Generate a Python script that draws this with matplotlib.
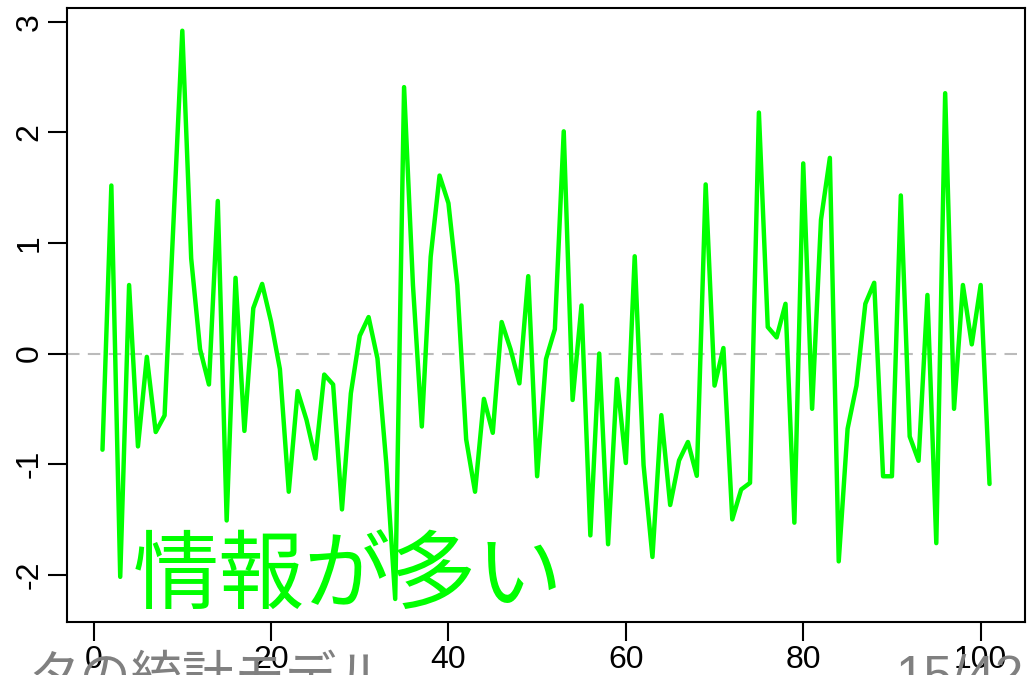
import numpy as np
import matplotlib
matplotlib.use("Agg")
import matplotlib.pyplot as plt

# 系列の値 (1..101)
x = np.arange(1, 102)
y = [-0.87, 1.52, -2.02, 0.62, -0.84, -0.03, -0.71, -0.56, 1.18, 2.92,
     0.86, 0.04, -0.28, 1.38, -1.51, 0.685, -0.70, 0.41, 0.63, 0.29,
     -0.14, -1.25, -0.34, -0.60, -0.95, -0.19, -0.28, -1.41, -0.36, 0.16,
     0.33, -0.045, -1.0, -2.22, 2.41, 0.62, -0.66, 0.875, 1.61, 1.36,
     0.62, -0.776, -1.25, -0.41, -0.717, 0.285, 0.04, -0.27, 0.70, -1.11,
     -0.05, 0.22, 2.01, -0.42, 0.435, -1.645, 0.0, -1.725, -0.23, -0.99,
     0.88, -1.01, -1.84, -0.557, -1.37, -0.967, -0.80, -1.106, 1.53, -0.29,
     0.05, -1.50, -1.23, -1.17, 2.18, 0.24, 0.146, 0.45, -1.53, 1.72,
     -0.50, 1.21, 1.77, -1.88, -0.68, -0.29, 0.45, 0.64, -1.11, -1.11,
     1.43, -0.75, -0.97, 0.53, -1.715, 2.355, -0.50, 0.62, 0.083, 0.62,
     -1.18]
xticks = [0, 20, 40, 60, 80, 100]
yticks = [-2, -1, 0, 1, 2, 3]
label_main = "情報が多い"
footer_left = "タの統計モデル"
footer_right = "15/42"

plt.rcParams['font.family'] = ['Liberation Sans', 'DejaVu Sans']

fig = plt.figure(figsize=(10.34, 6.75), dpi=100)
ax = fig.add_axes([67/1034, 1 - 621.7/675, (1025 - 67)/1034, (621.7 - 8)/675])

ax.axhline(0, color='#bbbbbb', lw=1.5, ls=(0, (6, 4)), zorder=1)
ax.plot(x, y, color='#00ff00', lw=3.2, solid_joinstyle='round',
        solid_capstyle='round', zorder=2)

ax.set_xlim(-3, 105)
ymin, ymax = min(y), max(y)
pad = (ymax - ymin) * 0.04
ax.set_ylim(ymin - pad, ymax + pad)
ax.set_xticks(xticks)
ax.set_yticks(yticks)
ax.set_yticklabels([str(v) for v in yticks], rotation=90, va='center')
ax.tick_params(axis='both', direction='out', length=14, width=1.5,
               labelsize=23, color='black')
ax.tick_params(axis='x', pad=3)
ax.tick_params(axis='y', pad=2)
for s in ax.spines.values():
    s.set_linewidth(1.5)

ax.text(4.4, -2.03, label_main, color='#00ff00', fontsize=62,
        family=['Noto Sans CJK JP', 'DejaVu Sans'], ha='left', va='center',
        zorder=3)

# スライドの下端の文字 (はみ出して切れている)
fig.text(28/1034, 1 - 651/675, footer_left, color='#808080', fontsize=37,
         family=['Noto Sans CJK JP', 'DejaVu Sans'], ha='left', va='top',
         zorder=0)
fig.text(895/1034, 1 - 653/675, footer_right, color='#808080', fontsize=37,
         family=['Liberation Sans', 'DejaVu Sans'], ha='left', va='top',
         zorder=0)

fig.savefig('out.png', dpi=100)
